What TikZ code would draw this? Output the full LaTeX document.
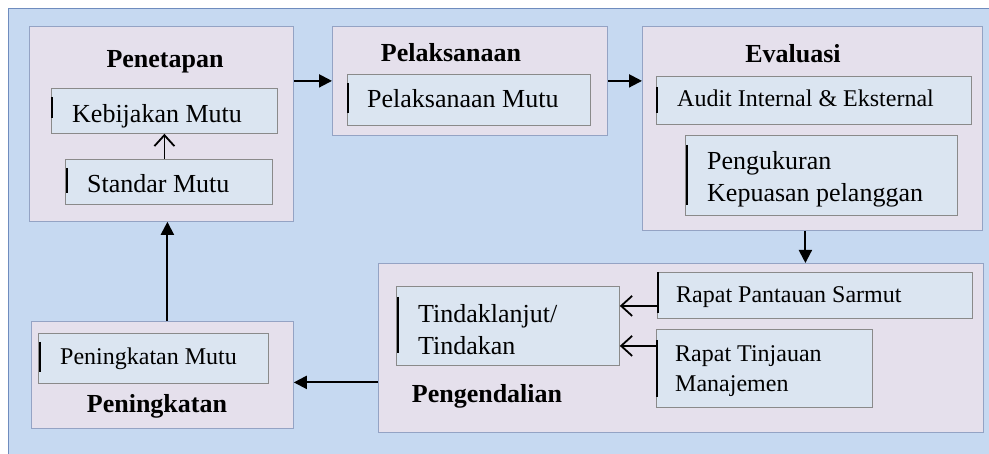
\documentclass[tikz,border=0pt]{standalone}
\usepackage{fontspec}
\setmainfont{Liberation Serif}
\usetikzlibrary{positioning,arrows.meta,calc}

\definecolor{bgblue}{HTML}{C6D9F1}
\definecolor{bgline}{HTML}{6F8CBE}
\definecolor{lavender}{HTML}{E5E0EC}
\definecolor{lavline}{HTML}{94A3C4}
\definecolor{boxblue}{HTML}{DBE5F1}
\definecolor{boxline}{HTML}{8A8A8A}

\begin{document}
\begin{tikzpicture}[
    x=1pt, y=-1pt,
    stage/.style={draw=lavline, fill=lavender, line width=0.8pt, anchor=north west, inner sep=0pt},
    inbox/.style={draw=boxline, fill=boxblue, line width=0.8pt, anchor=north west, inner sep=0pt},
    title/.style={font=\fontsize{26}{30}\selectfont\bfseries, anchor=base, inner sep=0pt},
    txt/.style={font=\fontsize{26}{32}\selectfont, anchor=base west, inner sep=0pt, align=left},
    smalltxt/.style={txt, font=\fontsize{24}{30}\selectfont},
    bar/.style={line width=2pt},
    fillarr/.style={-{Triangle[length=13pt,width=13pt]}, line width=2pt},
    openarr/.style={-{Straight Barb[length=11pt,width=20pt]}, line width=1.8pt}
]
    \useasboundingbox (0,0) rectangle (989,454);
    \filldraw[fill=bgblue, draw=bgline, line width=1pt] (8,9) rectangle (1000,465);

    % Penetapan
    \node[stage, minimum width=264pt, minimum height=195pt] (penetapan) at (29,26) {};
    \node[title] (penetapanlbl) at (165,68) {Penetapan};
    \node[inbox, minimum width=226pt, minimum height=45pt] (kebijakan) at (51,88) {};
    \node[txt] (kebijakantxt) at (72,123) {Kebijakan Mutu};
    \node[inbox, minimum width=207pt, minimum height=45pt] (standar) at (65,159) {};
    \node[txt] (standartxt) at (87,193) {Standar Mutu};

    % Pelaksanaan
    \node[stage, minimum width=275pt, minimum height=109pt] (pelaksanaan) at (332,26) {};
    \node[title] (pelaksanaanlbl) at (451,62) {Pelaksanaan};
    \node[inbox, minimum width=243pt, minimum height=51pt] (pmutu) at (347,74) {};
    \node[txt] (pmututxt) at (367,108) {Pelaksanaan Mutu};

    % Evaluasi
    \node[stage, minimum width=340pt, minimum height=204pt] (evaluasi) at (642,26) {};
    \node[title] (evaluasilbl) at (793,63) {Evaluasi};
    \node[inbox, minimum width=315pt, minimum height=48pt] (audit) at (656,76) {};
    \node[smalltxt] (audittxt) at (677,107) {Audit Internal \& Eksternal};
    \node[inbox, minimum width=272pt, minimum height=80pt] (kepuasan) at (685,135) {};
    \node[txt] (kepuasantxt) at (707,202) {Pengukuran\\Kepuasan pelanggan};

    % Pengendalian
    \node[stage, minimum width=605pt, minimum height=169pt] (pengendalian) at (378,263) {};
    \node[title] (pengendalianlbl) at (487,403) {Pengendalian};
    \node[inbox, minimum width=223pt, minimum height=79pt] (tindak) at (396,286) {};
    \node[txt] (tindaktxt) at (418,355) {Tindaklanjut/\\Tindakan};
    \node[inbox, minimum width=315pt, minimum height=46pt] (pantauan) at (657,272) {};
    \node[smalltxt] (pantauantxt) at (676,303) {Rapat Pantauan Sarmut};
    \node[inbox, minimum width=216pt, minimum height=78pt] (tinjauan) at (656,329) {};
    \node[smalltxt] (tinjauantxt) at (675,392) {Rapat Tinjauan\\Manajemen};

    % Peningkatan
    \node[stage, minimum width=262pt, minimum height=107pt] (peningkatan) at (31,321) {};
    \node[title] (peningkatanlbl) at (157,413) {Peningkatan};
    \node[inbox, minimum width=230pt, minimum height=50pt] (imutu) at (38,333) {};
    \node[smalltxt] (imututxt) at (60,365) {Peningkatan Mutu};

    % bars on the left of the text boxes
    \draw[bar] (52,97) -- (52,118);
    \draw[bar] (67,168) -- (67,193);
    \draw[bar] (348,83) -- (348,113);
    \draw[bar] (657,87) -- (657,113);
    \draw[bar] (687,145) -- (687,205);
    \draw[bar] (398,297) -- (398,353);
    \draw[bar] (658,272) -- (658,313);
    \draw[bar] (657,340) -- (657,397);
    \draw[bar] (40,342) -- (40,372);

    % cycle
    \draw[fillarr] (pelaksanaan.west -| penetapan.east) -- (pelaksanaan.west);
    \draw[fillarr] (pelaksanaan.east) -- (pelaksanaan.east -| evaluasi.west);
    \draw[fillarr] ([xshift=-7pt]evaluasi.south) -- ([xshift=-7pt]evaluasi.south |- pengendalian.north);
    \draw[fillarr] ([yshift=-34.5pt]pengendalian.west) -- ([yshift=-34.5pt]pengendalian.west -| peningkatan.east);
    \draw[fillarr] ([xshift=5pt]peningkatan.north) -- ([xshift=5pt]peningkatan.north |- penetapan.south);

    % inner arrows
    \draw[openarr] (kebijakan.south |- standar.north) -- (kebijakan.south);
    \coordinate (upin) at ($(tindak.east)+(0,-20)$);
    \coordinate (lowin) at ($(tindak.east)+(0,20)$);
    \draw[openarr] (upin -| pantauan.west) -- (upin);
    \draw[openarr] (lowin -| tinjauan.west) -- (lowin);
\end{tikzpicture}
\end{document}
